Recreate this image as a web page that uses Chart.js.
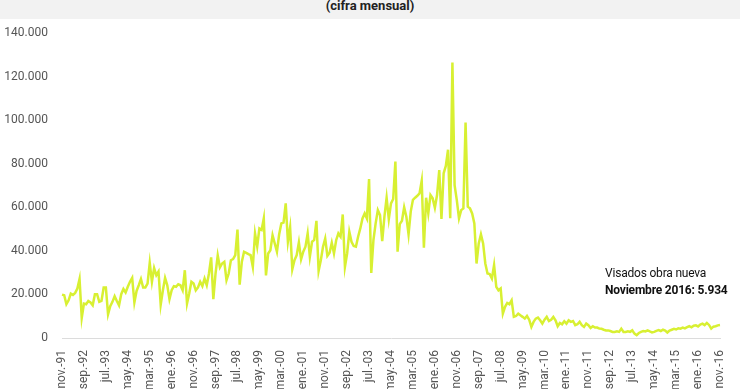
<!DOCTYPE html>
<html>
<head>
<meta charset="utf-8">
<script src="https://cdn.jsdelivr.net/npm/chart.js@4"></script>
<style>
  html, body { margin: 0; padding: 0; background: #fff; }
  #wrap { position: relative; width: 740px; height: 389px; overflow: hidden; }
  #band {
    position: absolute; left: 0; top: 0; width: 740px; height: 19px;
    background: #f2f2f2; overflow: hidden;
  }
  #band span {
    position: absolute; left: 0; right: 0; top: -2px; text-align: center; line-height: 13px;
    font: bold 13px Roboto, sans-serif; color: #222;
  }
  #note {
    position: absolute; left: 605px; top: 265px; white-space: nowrap;
    font: 12px Roboto, sans-serif; color: #111; line-height: 17px; letter-spacing: -0.2px;
  }
  #note b { font-weight: bold; }
</style>
</head>
<body>
<div id="wrap">
  <canvas id="c" width="740" height="389"></canvas>
  <div id="band"><span>(cifra mensual)</span></div>
  <div id="note">Visados obra nueva<br><b>Noviembre 2016: 5.934</b></div>
</div>
<script>
// meses en castellano, serie desde nov-1991 hasta nov-2016
const monthNames = ['ene.', 'feb.', 'mar.', 'abr.', 'may.', 'jun.', 'jul.', 'ago.', 'sep.', 'oct.', 'nov.', 'dic.'];
const startMonth = 10;  // nov
const startYear = 1991;

// visados de obra nueva (viviendas), cifra mensual
const visados = [
  19900, 19600, 15500, 17300, 20400, 19800, 20700, 22700, 27100, 9200,
  15800, 15500, 17000, 16300, 15000, 20100, 20100, 16600, 17000, 23200,
  23200, 10900, 14600, 16600, 19200, 17000, 15000, 20100, 22500, 20900,
  23500, 25800, 27600, 16300, 21600, 24200, 27100, 23200, 23200, 25000,
  34500, 25800, 32100, 28800, 30500, 15300, 21900, 27600, 24200, 17800,
  21900, 23800, 23500, 24700, 24200, 21900, 31100, 15800, 20400, 25800,
  25000, 21900, 23200, 25800, 23800, 27300, 24200, 29600, 37000, 17800,
  29600, 37900, 32400, 34200, 35000, 26500, 29600, 35700, 36200, 38000,
  49800, 24500, 35000, 39600, 39100, 38500, 38000, 32700, 48000, 42000,
  50300, 49600, 54900, 28700, 38800, 40300, 47200, 43400, 39600, 47500,
  52600, 53000, 61800, 44200, 50800, 31500, 35700, 38000, 43900, 36100,
  39600, 41900, 48000, 37300, 44200, 45000, 53800, 30800, 35700, 41900,
  45700, 37700, 39100, 43700, 38800, 44900, 48000, 46500, 56700, 32700,
  38800, 48800, 44200, 42200, 41900, 46500, 50300, 54900, 57200, 54900,
  73000, 29900, 45000, 52600, 58700, 56400, 44500, 55700, 64400, 54600,
  61800, 63800, 81000, 39600, 52300, 53800, 60000, 55700, 47600, 58000,
  63400, 64400, 65300, 66400, 72200, 41400, 64400, 57200, 65600, 64100,
  59800, 65600, 77100, 54600, 75600, 79000, 86400, 55000, 126500, 70200,
  63300, 54900, 58700, 59500, 98900, 60300, 59500, 57200, 52600, 34200,
  43400, 47600, 43400, 34200, 29600, 29300, 27300, 33500, 23500, 21900,
  22700, 11200, 14300, 16100, 15500, 17300, 9700, 10100, 11200, 10400,
  9700, 8900, 10100, 8400, 5100, 7400, 8900, 9400, 8100, 6600,
  8400, 9700, 7800, 8400, 9700, 8100, 5400, 6900, 6300, 7700,
  6600, 8100, 7400, 7800, 5900, 6300, 7400, 5900, 5100, 6600,
  5900, 4600, 5400, 4800, 4800, 4300, 4200, 3800, 3500, 3500,
  3200, 2800, 2800, 3100, 2800, 4300, 2800, 2800, 3100, 2800,
  3500, 2000, 1300, 2300, 2800, 3200, 3000, 3500, 3000, 2600,
  2800, 3300, 3600, 3200, 3800, 3400, 2500, 3400, 3800, 4200,
  3900, 4500, 4300, 4800, 4400, 5000, 5400, 4900, 5600, 5800,
  5300, 6200, 6600, 5900, 6900, 6000, 4300, 5200, 5400, 5800,
  5934
];

const yTicks = [0, 20000, 40000, 60000, 80000, 100000, 120000, 140000];
const labelEvery = 10;

const labels = visados.map((_, i) => {
  const m = (startMonth + i) % 12;
  const y = startYear + Math.floor((startMonth + i) / 12);
  return monthNames[m] + '-' + String(y % 100).padStart(2, '0');
});

const fmt = v => String(v).replace(/\B(?=(\d{3})+(?!\d))/g, '.');
const font = { family: 'Roboto, sans-serif', size: 12 };

new Chart(document.getElementById('c'), {
  type: 'line',
  data: {
    labels,
    datasets: [{
      data: visados,
      borderColor: '#d8f032',
      borderWidth: 2.5,
      pointRadius: 0,
      tension: 0,
      fill: false,
    }],
  },
  options: {
    responsive: false,
    animation: false,
    layout: { padding: { top: 33, right: 20, bottom: 0, left: 0 } },
    plugins: { legend: { display: false }, tooltip: { enabled: false } },
    scales: {
      x: {
        grid: { display: false },
        border: { display: true, color: '#dcdcdc', width: 1 },
        afterFit(s) { s.height = 51; },
        ticks: {
          autoSkip: false, minRotation: 90, maxRotation: 90, padding: 4,
          color: '#555', font,
          callback(v, i) { return i % labelEvery === 0 ? labels[i] : null; },
        },
      },
      y: {
        min: 0, max: 140000,
        grid: { display: false, drawTicks: false },
        border: { display: false },
        afterFit(s) { s.width = 62; },
        afterBuildTicks(s) { s.ticks = yTicks.map(v => ({ value: v })); },
        ticks: { padding: 14, color: '#555', font, callback: v => fmt(v) },
      },
    },
  },
});
</script>
</body>
</html>
